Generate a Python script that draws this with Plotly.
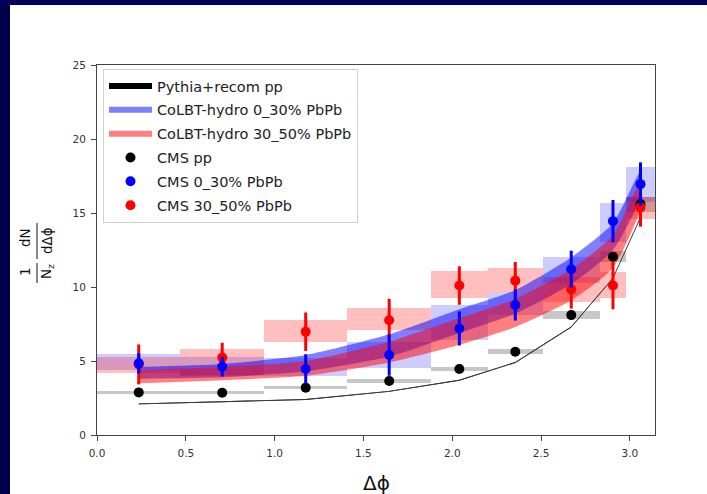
import numpy as np
import plotly.graph_objects as go

# ---------------- data ----------------
bin_edges = [0.0, 0.47, 0.94, 1.41, 1.88, 2.20, 2.51, 2.83, 2.98, 3.1416]
dphi = [0.235, 0.705, 1.175, 1.645, 2.04, 2.355, 2.67, 2.905, 3.06]

pythia_pp = [2.1, 2.25, 2.4, 2.95, 3.7, 4.9, 7.3, 10.6, 14.7]

colbt_0_30_lo = [3.8, 3.9, 4.3, 5.3, 6.9, 8.2, 10.2, 12.5, 16.1]
colbt_0_30_hi = [4.6, 4.8, 5.4, 6.8, 8.5, 9.8, 12.0, 14.3, 17.8]
colbt_30_50_lo = [3.5, 3.7, 4.0, 4.9, 6.1, 7.3, 9.1, 11.3, 15.3]
colbt_30_50_hi = [4.4, 4.6, 5.0, 6.3, 7.9, 9.2, 11.2, 13.5, 17.1]

cms_pp = [2.88, 2.86, 3.2, 3.65, 4.46, 5.63, 8.1, 12.05, 15.6]
cms_pp_sys = [0.1, 0.1, 0.12, 0.15, 0.15, 0.18, 0.25, 0.35, 0.5]

cms_0_30 = [4.84, 4.62, 4.46, 5.4, 7.2, 8.78, 11.2, 14.45, 16.95]
cms_0_30_err = [0.7, 0.67, 1.0, 1.4, 1.15, 1.05, 1.25, 1.43, 1.47]
cms_0_30_sys_lo = [4.4, 4.0, 3.98, 4.5, 6.4, 8.1, 10.25, 13.06, 15.76]
cms_0_30_sys_hi = [5.5, 5.3, 5.18, 6.3, 8.78, 9.57, 12.05, 15.65, 18.1]

cms_30_50 = [4.77, 5.23, 6.98, 7.75, 10.1, 10.43, 9.84, 10.1, 15.38]
cms_30_50_err = [1.35, 1.0, 1.3, 1.45, 1.3, 1.26, 1.3, 1.6, 1.3]
cms_30_50_sys_lo = [4.17, 4.05, 6.3, 7.1, 9.24, 9.57, 9.0, 9.24, 14.6]
cms_30_50_sys_hi = [5.29, 5.79, 7.77, 8.56, 11.1, 11.3, 10.7, 11.0, 16.1]

x_ticks = [0.0, 0.5, 1.0, 1.5, 2.0, 2.5, 3.0]
y_ticks = [0, 5, 10, 15, 20, 25]

# ---------------- figure ----------------
W, H = 707, 494
L, R, T, B = 97, 655, 65, 435  # plot area in pixels


def px(xp):
    return (xp - L) / (R - L)


def py(yp):
    return (B - yp) / (B - T)


edges = np.array(bin_edges)
widths = np.diff(edges)
centers_box = (edges[:-1] + edges[1:]) / 2

fig = go.Figure()


def boxes(lo, hi, color):
    lo = np.array(lo)
    hi = np.array(hi)
    fig.add_trace(go.Bar(x=centers_box, y=hi - lo, base=lo, width=widths,
                         marker=dict(color=color, line=dict(width=0)),
                         showlegend=False, hoverinfo="skip"))


pp = np.array(cms_pp)
ps = np.array(cms_pp_sys)
boxes(pp - ps, pp + ps, "rgba(0,0,0,0.22)")
boxes(cms_0_30_sys_lo, cms_0_30_sys_hi, "rgba(0,0,255,0.2)")
boxes(cms_30_50_sys_lo, cms_30_50_sys_hi, "rgba(255,0,0,0.25)")


def band(lo, hi, color, name, group, rank):
    xs = list(dphi) + list(dphi[::-1])
    ys = list(hi) + list(lo[::-1])
    fig.add_trace(go.Scatter(x=xs, y=ys, fill="toself", fillcolor=color,
                             mode="none", line=dict(width=0, shape="spline", smoothing=0.6),
                             name=name, legendgroup=group, legendrank=rank, hoverinfo="skip"))


band(colbt_0_30_lo, colbt_0_30_hi, "rgba(0,0,255,0.5)", "CoLBT-hydro 0_30% PbPb", "g2", 2)
band(colbt_30_50_lo, colbt_30_50_hi, "rgba(255,0,0,0.5)", "CoLBT-hydro 30_50% PbPb", "g3", 3)

# Pythia curve: thin black band (legend patch) + thin outline
pyt = np.array(pythia_pp)
xs = list(dphi) + list(dphi[::-1])
ys = list(pyt + 0.03) + list((pyt - 0.03)[::-1])
fig.add_trace(go.Scatter(x=xs, y=ys, fill="toself", fillcolor="black", mode="none",
                         name="Pythia+recom pp", legendgroup="g1", legendrank=1, hoverinfo="skip"))
fig.add_trace(go.Scatter(x=dphi, y=pythia_pp, mode="lines", line=dict(width=0.8, color="#444"),
                         showlegend=False, hoverinfo="skip"))


def points(y, err, color, name, group, rank):
    fig.add_trace(go.Scatter(x=dphi, y=y, mode="markers",
                             marker=dict(color=color, size=10, line=dict(width=0)),
                             error_y=dict(type="data", array=err, visible=err is not None,
                                          color=color, thickness=3, width=0),
                             name=name, legendgroup=group, legendrank=rank))


points(cms_pp, None, "black", "CMS pp", "g4", 4)
points(cms_30_50, cms_30_50_err, "red", "CMS 30_50% PbPb", "g6", 6)
points(cms_0_30, cms_0_30_err, "blue", "CMS 0_30% PbPb", "g5", 5)

font = "DejaVu Sans"
axis_common = dict(showgrid=False, zeroline=False, showline=True, mirror=True,
                   linecolor="#444", linewidth=1, ticks="outside", ticklen=5,
                   tickcolor="#444", ticklabelstandoff=3,
                   tickfont=dict(family=font, size=10.5, color="#333"))

fig.update_layout(
    width=W, height=H,
    margin=dict(l=L, r=W - R, t=T, b=H - B),
    paper_bgcolor="white", plot_bgcolor="white",
    barmode="overlay", bargap=0,
    xaxis=dict(range=[0, np.pi], tickvals=x_ticks, tickformat=".1f", **axis_common),
    yaxis=dict(range=[0, 25], tickvals=y_ticks, **axis_common),
    legend=dict(x=px(103), y=py(69), xanchor="left", yanchor="top",
                bgcolor="rgba(255,255,255,0.9)", bordercolor="#d0d0d0", borderwidth=1,
                font=dict(family=font, size=14.5, color="#222"),
                tracegroupgap=2, itemwidth=43, traceorder="grouped"),
    font=dict(family=font),
)

# navy frame
fig.add_shape(type="rect", xref="paper", yref="paper", x0=px(0), x1=px(10), y0=py(H), y1=py(0),
              fillcolor="#000048", line=dict(width=0), layer="above")
fig.add_shape(type="rect", xref="paper", yref="paper", x0=px(0), x1=px(W), y0=py(5), y1=py(0),
              fillcolor="#00005a", line=dict(width=0), layer="above")

# axis titles
fig.add_annotation(text="Δϕ", xref="paper", yref="paper", x=px(376), y=py(483),
                   showarrow=False, font=dict(family=font, size=20, color="#111"),
                   xanchor="center", yanchor="middle")

ylab = [("1", 25, 272), ("dN", 25, 238), ("N<sub>z</sub>", 47, 272), ("dΔϕ", 47, 241)]
for txt, xx, yy in ylab:
    fig.add_annotation(text=txt, xref="paper", yref="paper", x=px(xx), y=py(yy),
                       showarrow=False, textangle=-90, font=dict(family=font, size=13.5, color="#111"),
                       xanchor="center", yanchor="middle")
fig.add_shape(type="line", xref="paper", yref="paper", x0=px(37), x1=px(37), y0=py(263), y1=py(283),
              line=dict(color="#111", width=1))
fig.add_shape(type="line", xref="paper", yref="paper", x0=px(37), x1=px(37), y0=py(223), y1=py(259),
              line=dict(color="#111", width=1))

fig.write_html("out.html")
